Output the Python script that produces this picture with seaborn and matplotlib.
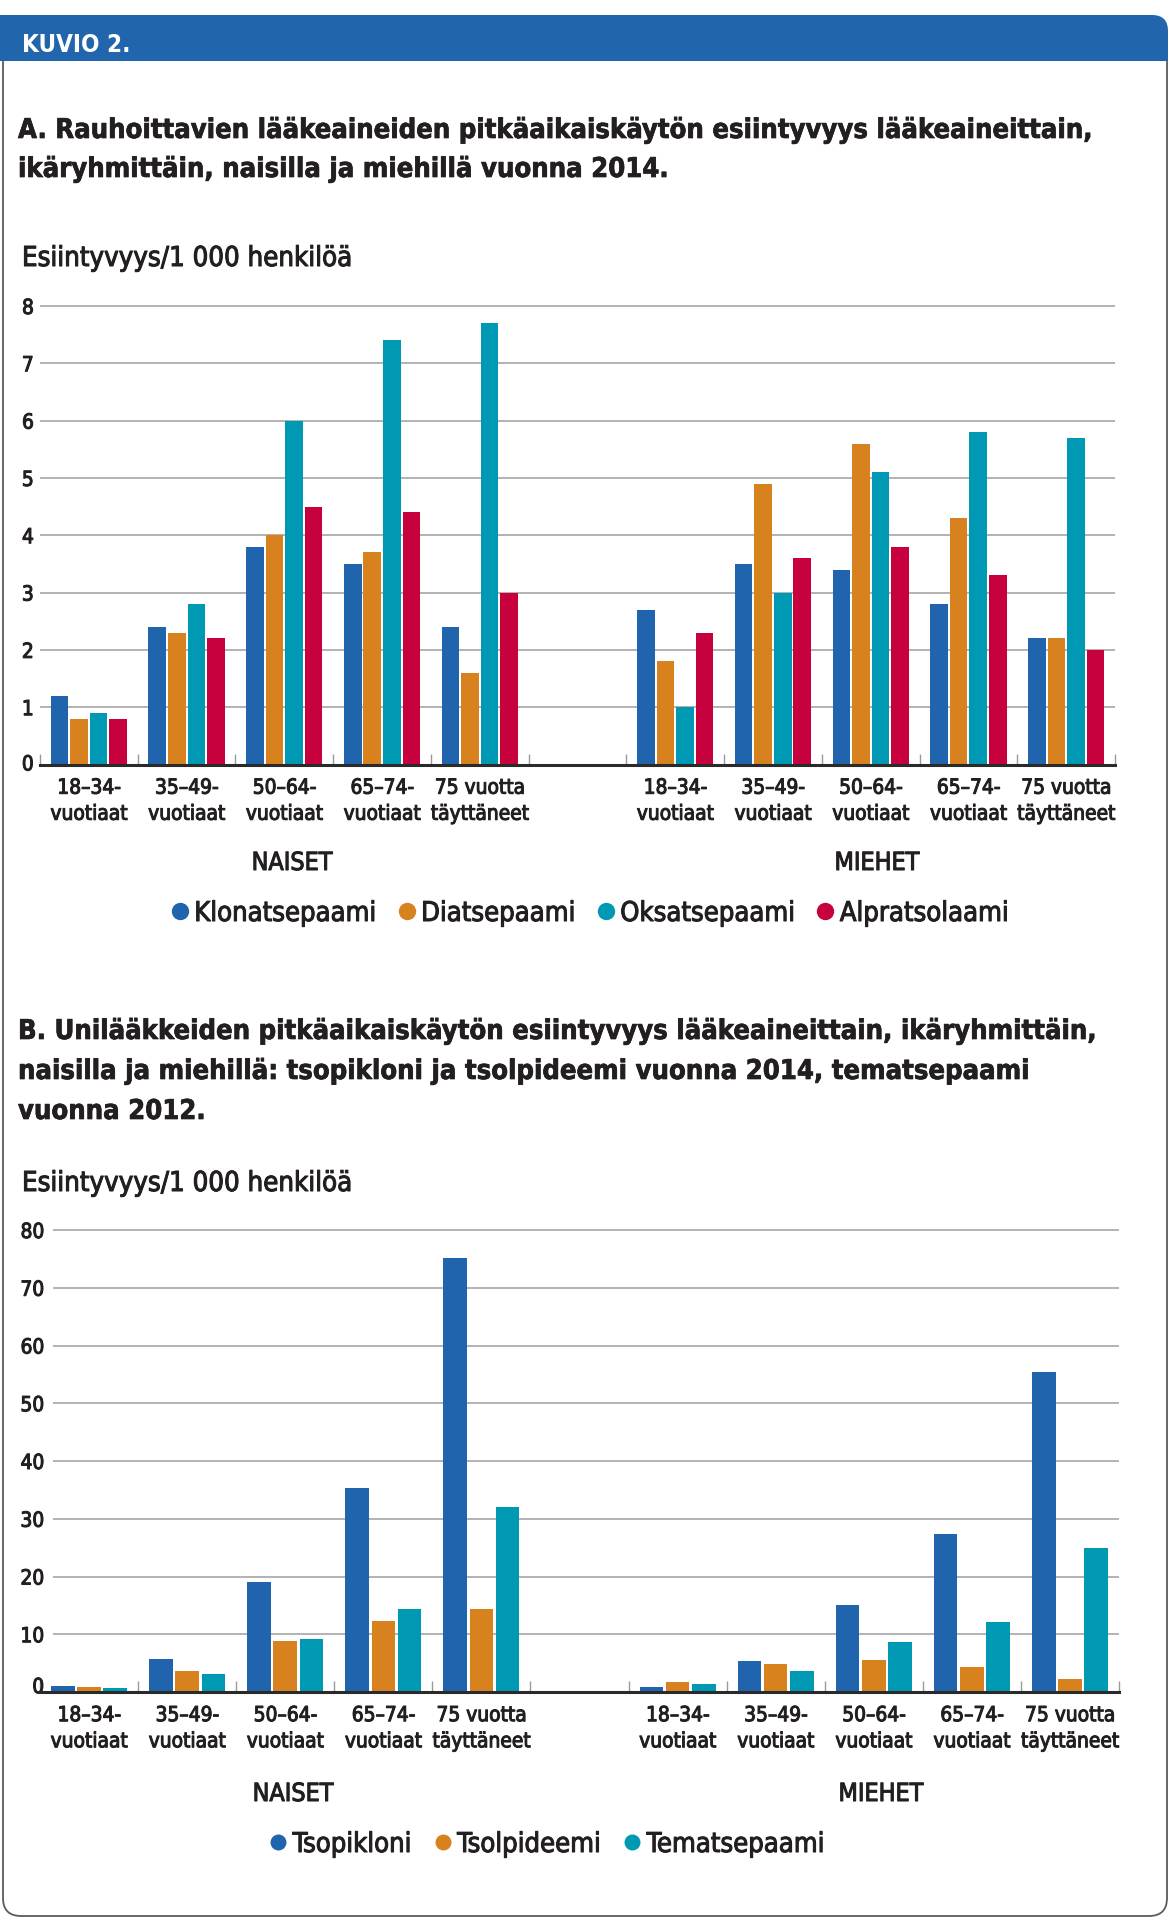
import os
import numpy as np
import pandas as pd
import matplotlib
matplotlib.use("Agg")
import matplotlib.pyplot as plt
import matplotlib.patheffects as pe
import seaborn as sns
from matplotlib import font_manager as fm
from matplotlib.font_manager import FontProperties
from matplotlib.patches import FancyBboxPatch, Rectangle
from matplotlib.lines import Line2D
from matplotlib.transforms import ScaledTranslation

# ---------------- data ----------------
age_groups = ["18–34-\nvuotiaat", "35–49-\nvuotiaat", "50–64-\nvuotiaat",
              "65–74-\nvuotiaat", "75 vuotta\ntäyttäneet"]
sexes = ["NAISET", "MIEHET"]

drugs_a = ["Klonatsepaami", "Diatsepaami", "Oksatsepaami", "Alpratsolaami"]
klonatsepaami_naiset = [1.2, 2.4, 3.8, 3.5, 2.4]
klonatsepaami_miehet = [2.7, 3.5, 3.4, 2.8, 2.2]
diatsepaami_naiset = [0.8, 2.3, 4.0, 3.7, 1.6]
diatsepaami_miehet = [1.8, 4.9, 5.6, 4.3, 2.2]
oksatsepaami_naiset = [0.9, 2.8, 6.0, 7.4, 7.7]
oksatsepaami_miehet = [1.0, 3.0, 5.1, 5.8, 5.7]
alpratsolaami_naiset = [0.8, 2.2, 4.5, 4.4, 3.0]
alpratsolaami_miehet = [2.3, 3.6, 3.8, 3.3, 2.0]

drugs_b = ["Tsopikloni", "Tsolpideemi", "Tematsepaami"]
tsopikloni_naiset = [1.0, 5.7, 19.0, 35.4, 75.2]
tsopikloni_miehet = [0.9, 5.4, 15.0, 27.4, 55.4]
tsolpideemi_naiset = [0.9, 3.7, 8.8, 12.3, 14.3]
tsolpideemi_miehet = [1.7, 4.9, 5.6, 4.3, 2.2]
tematsepaami_naiset = [0.7, 3.2, 9.2, 14.3, 32.0]
tematsepaami_miehet = [1.3, 3.7, 8.7, 12.1, 25.0]

yticks_a = [0, 1, 2, 3, 4, 5, 6, 7, 8]
yticks_b = [0, 10, 20, 30, 40, 50, 60, 70, 80]

title_a = ["A. Rauhoittavien lääkeaineiden pitkäaikaiskäytön esiintyvyys lääkeaineittain,",
           "ikäryhmittäin, naisilla ja miehillä vuonna 2014."]
title_b = ["B. Unilääkkeiden pitkäaikaiskäytön esiintyvyys lääkeaineittain, ikäryhmittäin,",
           "naisilla ja miehillä: tsopikloni ja tsolpideemi vuonna 2014, tematsepaami",
           "vuonna 2012."]
ylabel_text = "Esiintyvyys/1 000 henkilöä"
header_text = "KUVIO 2."

colors_a = ["#2064ad", "#d8821f", "#0099b3", "#c7003e"]
colors_b = ["#2064ad", "#d8821f", "#0099b3"]

series_a = {
    "Klonatsepaami": (klonatsepaami_naiset, klonatsepaami_miehet),
    "Diatsepaami": (diatsepaami_naiset, diatsepaami_miehet),
    "Oksatsepaami": (oksatsepaami_naiset, oksatsepaami_miehet),
    "Alpratsolaami": (alpratsolaami_naiset, alpratsolaami_miehet),
}
series_b = {
    "Tsopikloni": (tsopikloni_naiset, tsopikloni_miehet),
    "Tsolpideemi": (tsolpideemi_naiset, tsolpideemi_miehet),
    "Tematsepaami": (tematsepaami_naiset, tematsepaami_miehet),
}

slot_order = [f"NAISET|{i}" for i in range(5)] + ["gap"] + [f"MIEHET|{i}" for i in range(5)]


def long_df(series):
    rows = []
    for drug, (nai, mie) in series.items():
        for i, v in enumerate(nai):
            rows.append({"slot": f"NAISET|{i}", "drug": drug, "value": v})
        for i, v in enumerate(mie):
            rows.append({"slot": f"MIEHET|{i}", "drug": drug, "value": v})
    return pd.DataFrame(rows)


df_a = long_df(series_a)
df_b = long_df(series_b)

# ---------------- fonts ----------------
sns.set_theme(style="white")
files = {os.path.basename(f.fname).lower(): f.fname for f in fm.fontManager.ttflist}
pairs = [
    ("notosans-condensedbold.ttf", "notosans-condensedsemibold.ttf"),
    ("notosans-condensedbold.ttf", "notosans-condensedmedium.ttf"),
    ("liberationsansnarrow-bold.ttf", "liberationsansnarrow-regular.ttf"),
    ("opensans_condensed-bold.ttf", "opensans_condensed-semibold.ttf"),
    ("opensans_condensed-bold.ttf", "opensans_condensed-medium.ttf"),
    ("opensans-condensedbold.ttf", "opensans-condensedregular.ttf"),
    ("dejavusanscondensed-bold.ttf", "dejavusanscondensed.ttf"),
    ("roboto-bold.ttf", "roboto-medium.ttf"),
    ("roboto-bold.ttf", "roboto-regular.ttf"),
]
BOLD_FILE = MED_FILE = None
for b, m in pairs:
    if b in files and m in files:
        BOLD_FILE, MED_FILE = files[b], files[m]
        break


def fprop(kind, size):
    f = BOLD_FILE if kind == "bold" else MED_FILE
    if f is None:
        return FontProperties(family=["Roboto", "DejaVu Sans"],
                              weight="bold" if kind == "bold" else "medium", size=size)
    return FontProperties(fname=f, size=size)


W, H, DPI = 1170, 1920, 100
fig = plt.figure(figsize=(W / DPI, H / DPI), dpi=DPI)
fig.patch.set_facecolor("white")
renderer = fig.canvas.get_renderer()


def fit(text, kind, target_px, base=20.0):
    t = fig.text(0, 0, text, fontproperties=fprop(kind, base))
    w = t.get_window_extent(renderer).width
    t.remove()
    return base * target_px / w


sz_title = fit(title_a[0], "bold", 1076)
sz_header = fit(header_text, "bold", 108)
sz_ylab = fit(ylabel_text, "med", 330)
sz_xt = fit("täyttäneet", "med", 98)
sz_sex = fit("NAISET", "med", 81)
sz_leg = fit("Klonatsepaami", "med", 182)
sz_yt = sz_xt

TXT = "#231f20"
THICK = [pe.withStroke(linewidth=0.75, foreground=TXT)]
THICK_T = [pe.withStroke(linewidth=0.5, foreground=TXT)]


def px2fig(x, y):
    return x / W, 1 - y / H


# ---------------- frame ----------------
inch = fig.dpi_scale_trans
border = FancyBboxPatch((3 / DPI, (H - 1916) / DPI), (1164) / DPI, (1916 - 20) / DPI,
                        boxstyle="round,pad=0,rounding_size=0.18",
                        transform=inch, facecolor="none", edgecolor="#5a5a5a",
                        linewidth=1.3, zorder=1)
fig.patches.append(border)
band = FancyBboxPatch((0, (H - 61) / DPI), 1168 / DPI, 46 / DPI,
                      boxstyle="round,pad=0,rounding_size=0.16",
                      transform=inch, facecolor="#2166ac", edgecolor="none", zorder=2)
fig.patches.append(band)
fig.patches.append(Rectangle((0, (H - 61) / DPI), 0.5, 46 / DPI, transform=inch,
                             facecolor="#2166ac", edgecolor="none", zorder=2))
fig.patches.append(Rectangle((0, (H - 61) / DPI), 1168 / DPI, 0.2, transform=inch,
                             facecolor="#2166ac", edgecolor="none", zorder=2))
fig.text(*px2fig(22, 52), header_text, color="white", fontproperties=fprop("bold", sz_header),
         va="baseline", ha="left", zorder=3)

# ---------------- titles ----------------
for line, yb in zip(title_a, [138, 177]):
    fig.text(*px2fig(18, yb), line, color=TXT, fontproperties=fprop("bold", sz_title),
             va="baseline", ha="left", path_effects=THICK_T)
for line, yb in zip(title_b, [1039, 1079, 1119]):
    fig.text(*px2fig(18, yb), line, color=TXT, fontproperties=fprop("bold", sz_title),
             va="baseline", ha="left", path_effects=THICK_T)

fig.text(*px2fig(22, 266), ylabel_text, color=TXT, fontproperties=fprop("med", sz_ylab),
         va="baseline", ha="left", path_effects=THICK)
fig.text(*px2fig(22, 1191), ylabel_text, color=TXT, fontproperties=fprop("med", sz_ylab),
         va="baseline", ha="left", path_effects=THICK)


# ---------------- panels ----------------
def make_panel(df, drugs, colors, yticks, ytop, left, right, y0px, ytickpx, grid_start,
               sex_y, sex_x, leg_y, leg_x, lab_pad, zero_raise, colspace, msize):
    ppu = (y0px - ytickpx) / yticks[-1]
    top_px = y0px - ytop * ppu
    ax = fig.add_axes([left / W, 1 - y0px / H, (right - left) / W, (y0px - top_px) / H])
    sns.barplot(data=df, x="slot", y="value", hue="drug", order=slot_order,
                hue_order=drugs, palette=colors, width=0.8, gap=0.1, saturation=1,
                errorbar=None, linewidth=0, legend=False, ax=ax, zorder=2)
    ax.set_xlim(-0.5, 10.5)
    ax.set_ylim(0, ytop)
    ax.set_facecolor("white")
    for s in ["top", "right", "left"]:
        ax.spines[s].set_visible(False)
    ax.spines["bottom"].set_color("#2a2a2a")
    ax.spines["bottom"].set_linewidth(2.2)
    ax.spines["bottom"].set_zorder(4)
    ax.grid(False)
    gfrac = (grid_start - left) / (right - left)
    ax.hlines(yticks[1:], gfrac, 1, transform=ax.get_yaxis_transform(),
              color="#a6a6a6", linewidth=1.2, zorder=0)
    ax.set_yticks(yticks)
    ax.set_yticklabels([str(v) for v in yticks])
    ax.tick_params(axis="y", length=0, pad=lab_pad, colors=TXT)
    for k, lab in enumerate(ax.get_yticklabels()):
        lab.set_fontproperties(fprop("med", sz_yt))
        lab.set_path_effects(THICK)
        if k == 0:
            lab.set_transform(lab.get_transform() +
                              ScaledTranslation(0, zero_raise / 72, fig.dpi_scale_trans))
    ax.set_xticks(range(11))
    ax.set_xticklabels(age_groups + [""] + age_groups)
    ax.tick_params(axis="x", length=0, pad=9.5, colors=TXT)
    for lab in ax.get_xticklabels():
        lab.set_fontproperties(fprop("med", sz_xt))
        lab.set_linespacing(1.38)
        lab.set_path_effects(THICK)
    bounds = [b - 0.5 for b in range(6)] + [b + 0.5 for b in range(5, 11)]
    ax.set_xticks(bounds, minor=True)
    ax.tick_params(axis="x", which="minor", direction="in", length=8, width=1,
                   color="#9a9a9a", top=False, bottom=True)
    ax.set_xlabel("")
    ax.set_ylabel("")
    for sx, sexlabel in zip(sex_x, sexes):
        fig.text(*px2fig(sx, sex_y), sexlabel, color=TXT, ha="center", va="baseline",
                 fontproperties=fprop("med", sz_sex), path_effects=THICK)
    handles = [Line2D([0], [0], marker="o", linestyle="none", markersize=msize,
                      markerfacecolor=c, markeredgecolor="none", label=d)
               for d, c in zip(drugs, colors)]
    leg = fig.legend(handles=handles, loc="center", bbox_to_anchor=px2fig(leg_x, leg_y),
                     ncol=len(drugs), frameon=False, prop=fprop("med", sz_leg),
                     handlelength=0.55, handletextpad=0.25, columnspacing=colspace,
                     borderaxespad=0, borderpad=0, labelcolor=TXT)
    for t in leg.get_texts():
        t.set_path_effects(THICK)
    return ax


make_panel(df_a, drugs_a, colors_a, yticks_a, 8.3, 40, 1115, 764.5, 306, 40,
           870, [292, 877], 914, 591, 4.5, 1.5, 0.82, 12.5)
make_panel(df_b, drugs_b, colors_b, yticks_b, 83, 40, 1119, 1692, 1230, 53,
           1801, [293, 881], 1845, 548, -3.0, 5.0, 0.86, 11.5)

fig.savefig("out.png", dpi=DPI, facecolor="white")
